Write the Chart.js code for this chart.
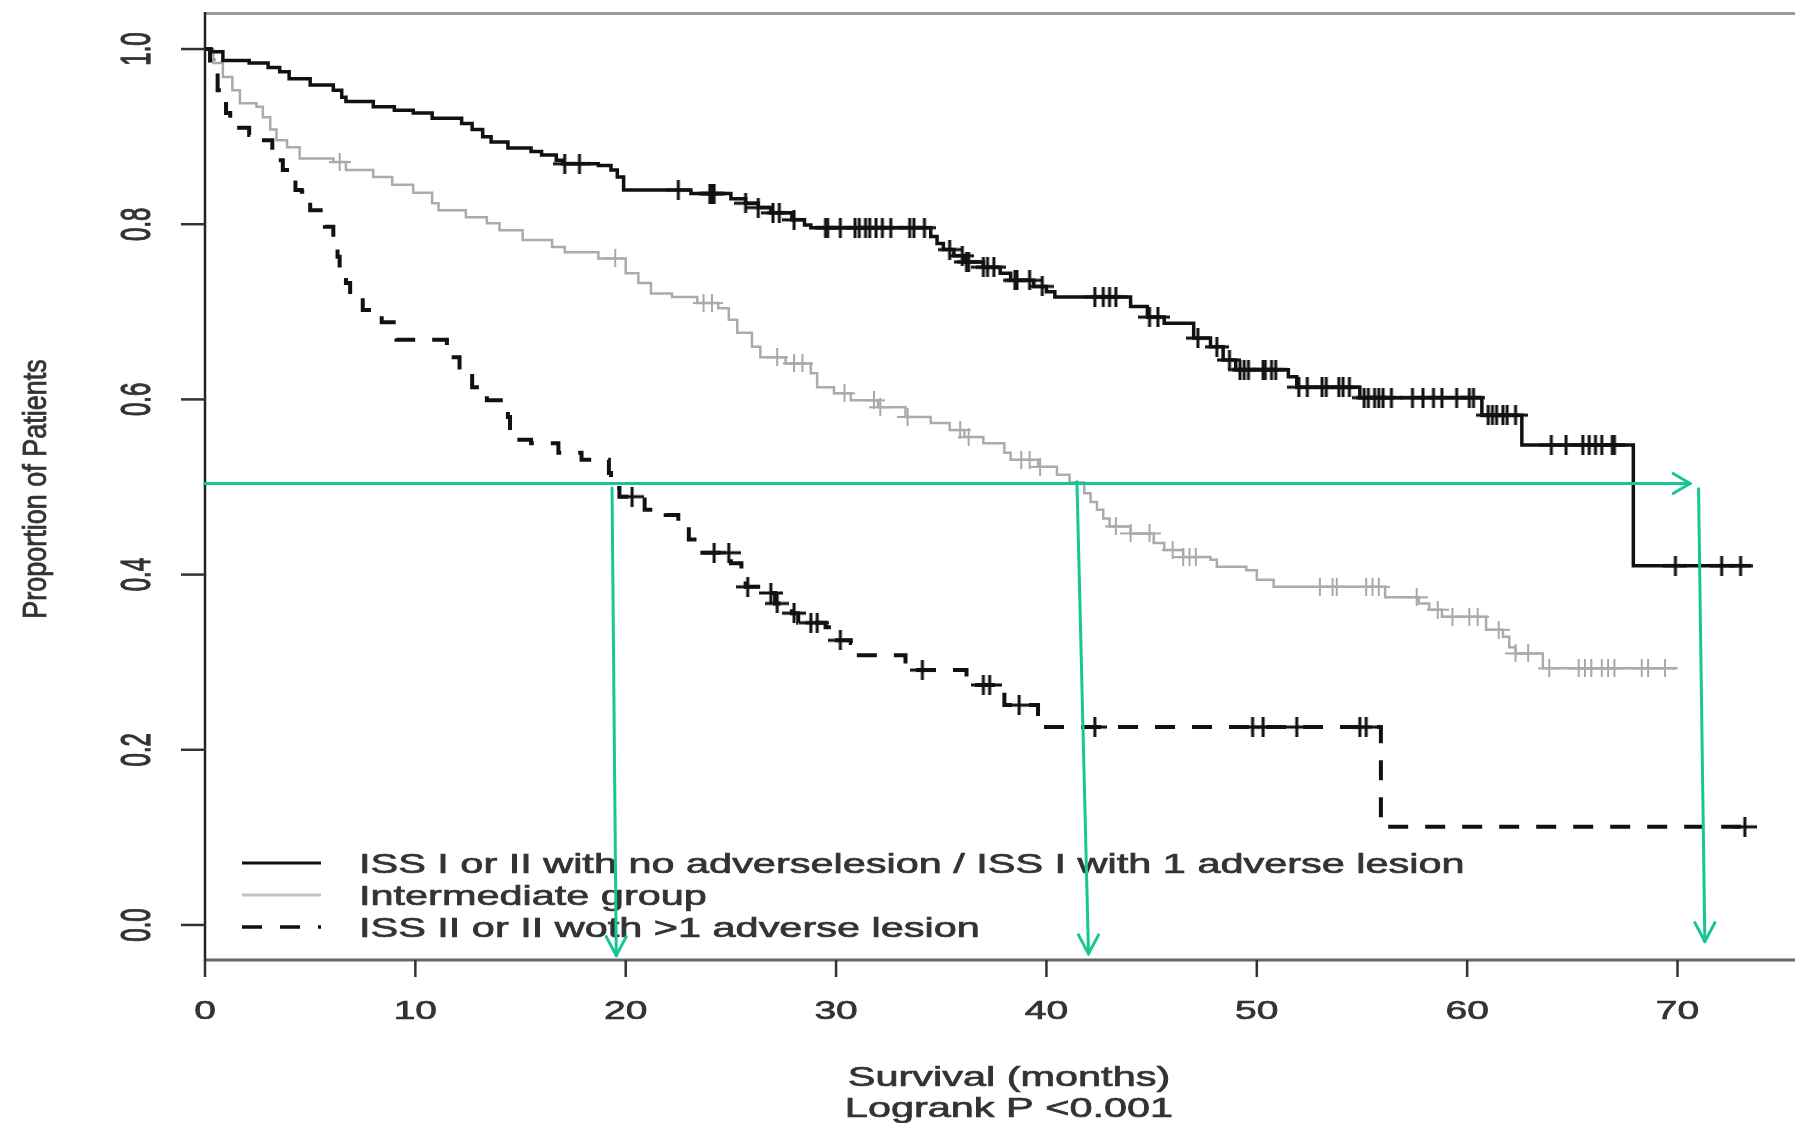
<!DOCTYPE html>
<html>
<head>
<meta charset="utf-8">
<script src="https://cdn.jsdelivr.net/npm/chart.js@4.4.1/dist/chart.umd.min.js"></script>
<style>
  html, body { margin: 0; padding: 0; background: #fff; }
  #wrap { width: 1795px; height: 1123px; }
</style>
</head>
<body>
<div id="wrap"><canvas id="kmChart"></canvas></div>
<script>
// Kaplan-Meier curves: step times (months) and survival after each step
const groupNames = [
  'ISS I or II with no adverselesion / ISS I with 1 adverse lesion',
  'Intermediate group',
  'ISS II or II woth >1 adverse lesion'
];

const lowTime = [0, 0.3, 0.85, 2.1, 3.0, 3.55, 4.0, 5.0, 6.1, 6.5, 6.7, 8.0, 9.0, 9.9, 10.8, 12.2, 12.7, 13.2, 13.6, 14.4, 15.5, 16.0, 16.7, 17.0, 18.7, 19.3, 19.6, 19.9, 23.1, 25.0, 25.7, 26.3, 26.9, 27.9, 28.5, 28.8, 34.5, 34.8, 35.1, 35.6, 36.1, 37.0, 37.8, 38.3, 39.4, 40.0, 40.4, 44.0, 44.8, 45.6, 47.0, 47.8, 48.4, 49.0, 51.5, 51.9, 54.9, 60.7, 62.6, 67.9, 73.5];
const lowSurv = [1.0, 0.997, 0.987, 0.984, 0.979, 0.974, 0.966, 0.959, 0.953, 0.945, 0.940, 0.934, 0.930, 0.927, 0.921, 0.915, 0.908, 0.900, 0.894, 0.887, 0.883, 0.879, 0.873, 0.869, 0.867, 0.862, 0.854, 0.839, 0.835, 0.829, 0.824, 0.819, 0.813, 0.805, 0.799, 0.796, 0.786, 0.778, 0.771, 0.764, 0.757, 0.751, 0.744, 0.736, 0.729, 0.723, 0.717, 0.706, 0.694, 0.687, 0.670, 0.660, 0.645, 0.634, 0.626, 0.614, 0.602, 0.582, 0.548, 0.410, 0.410];
const lowCensor = [17.1, 17.8, 22.5, 24.0, 24.1, 24.2, 25.7, 26.3, 27.0, 27.3, 28.0, 29.5, 29.6, 30.2, 30.9, 31.1, 31.4, 31.6, 31.9, 32.2, 32.6, 33.5, 33.7, 34.2, 35.4, 36.0, 36.2, 36.3, 37.0, 37.2, 37.5, 38.5, 38.6, 39.2, 39.8, 42.3, 42.7, 43.0, 43.3, 44.9, 45.3, 47.2, 48.1, 48.7, 49.2, 49.4, 49.6, 50.3, 50.4, 50.7, 50.9, 52.0, 52.4, 53.1, 53.3, 53.9, 54.1, 54.4, 55.1, 55.3, 55.6, 55.8, 56.0, 56.4, 57.4, 57.9, 58.4, 58.8, 59.5, 60.1, 60.3, 61.0, 61.2, 61.4, 61.7, 61.9, 62.3, 64.0, 64.7, 65.5, 65.8, 66.1, 66.4, 66.9, 67.0, 69.9, 72.1, 73.0];

const midTime = [0, 0.4, 0.85, 1.3, 1.66, 2.45, 2.75, 3.1, 3.4, 3.9, 4.5, 6.1, 6.7, 8.0, 8.9, 9.9, 10.8, 11.1, 12.4, 13.4, 14.0, 15.1, 16.5, 17.1, 18.7, 20.0, 20.6, 21.2, 22.2, 23.4, 24.4, 24.9, 25.3, 26.0, 26.4, 27.6, 28.8, 29.1, 29.9, 30.7, 32.0, 33.3, 34.5, 35.4, 36.1, 37.0, 38.0, 38.3, 39.6, 40.5, 41.1, 41.8, 42.1, 42.4, 42.7, 43.0, 44.0, 45.1, 45.6, 46.5, 47.8, 48.1, 49.5, 50.0, 50.8, 56.1, 57.7, 58.2, 58.8, 60.9, 61.7, 62.0, 62.3, 63.6, 70.0];
const midSurv = [1.0, 0.984, 0.968, 0.953, 0.938, 0.934, 0.922, 0.908, 0.896, 0.888, 0.875, 0.871, 0.862, 0.854, 0.845, 0.836, 0.824, 0.816, 0.808, 0.801, 0.793, 0.782, 0.774, 0.768, 0.761, 0.744, 0.733, 0.721, 0.717, 0.710, 0.704, 0.691, 0.676, 0.660, 0.648, 0.641, 0.630, 0.614, 0.607, 0.599, 0.591, 0.580, 0.573, 0.565, 0.557, 0.550, 0.539, 0.531, 0.523, 0.514, 0.505, 0.493, 0.483, 0.474, 0.464, 0.455, 0.447, 0.436, 0.428, 0.420, 0.417, 0.409, 0.405, 0.394, 0.386, 0.374, 0.367, 0.360, 0.352, 0.337, 0.329, 0.317, 0.310, 0.293, 0.293];
const midCensor = [6.4, 19.5, 23.7, 24.1, 27.2, 28.0, 28.4, 30.4, 31.8, 32.1, 33.4, 35.9, 36.3, 38.8, 39.2, 39.7, 43.3, 44.0, 44.9, 46.0, 46.5, 46.8, 47.1, 53.0, 53.6, 53.8, 55.2, 55.5, 55.8, 57.6, 58.6, 59.3, 60.1, 60.5, 61.5, 62.3, 62.9, 63.9, 65.3, 65.6, 65.9, 66.4, 66.7, 67.0, 68.3, 68.6, 69.4];

const highTime = [0, 0.24, 0.4, 0.6, 1.0, 1.2, 2.1, 2.6, 3.2, 3.3, 3.7, 3.9, 4.3, 4.6, 4.9, 5.0, 5.5, 5.7, 6.1, 6.2, 6.3, 6.4, 6.7, 6.9, 7.5, 8.4, 9.1, 11.5, 12.1, 12.7, 13.4, 14.4, 14.5, 15.5, 16.8, 17.9, 19.2, 19.3, 19.7, 20.9, 21.9, 22.5, 23.0, 23.4, 25.0, 25.5, 25.7, 26.6, 27.1, 27.9, 28.2, 29.5, 29.9, 30.7, 30.9, 33.3, 36.2, 38.0, 39.6, 55.9, 73.3];
const highSurv = [1.0, 0.987, 0.979, 0.953, 0.927, 0.910, 0.902, 0.896, 0.885, 0.873, 0.862, 0.854, 0.839, 0.837, 0.828, 0.816, 0.808, 0.797, 0.785, 0.782, 0.763, 0.744, 0.733, 0.717, 0.702, 0.688, 0.668, 0.648, 0.634, 0.614, 0.599, 0.580, 0.554, 0.550, 0.539, 0.531, 0.516, 0.499, 0.489, 0.474, 0.468, 0.455, 0.440, 0.425, 0.413, 0.397, 0.386, 0.379, 0.367, 0.356, 0.345, 0.340, 0.325, 0.322, 0.308, 0.291, 0.274, 0.251, 0.226, 0.112, 0.112];
const highCensor = [20.3, 24.2, 24.9, 25.8, 26.9, 27.2, 28.0, 28.8, 29.1, 30.2, 34.1, 37.0, 37.3, 38.7, 42.3, 49.8, 50.3, 51.9, 54.9, 55.2, 73.2];

const xTicks = [0, 10, 20, 30, 40, 50, 60, 70];
const yTicks = [0, 0.2, 0.4, 0.6, 0.8, 1.0];
const yTickLabels = ['0.0', '0.2', '0.4', '0.6', '0.8', '1.0'];

// green guide lines drawn on the figure (median read-offs)
const guideLevel = 0.504;
const guideEnd = 70.6;
const medianTop = [19.35, 41.45, 71.0];
const medianTopY = [0.499, 0.506, 0.498];
const medianBottom = [19.55, 42.0, 71.3];
const medianBottomY = [-0.035, -0.033, -0.019];

const FONT = '"Liberation Sans", Arial, sans-serif';
const GREEN = '#16c795';
const INK = '#333';

function toPoints(times, surv) {
  return times.map((t, i) => ({ x: t, y: surv[i] }));
}

function survAt(times, surv, t) {
  let s = surv[0];
  for (let i = 0; i < times.length; i++) {
    if (times[i] <= t) s = surv[i];
  }
  return s;
}

function censorPoints(censor, times, surv) {
  return censor.map(t => ({ x: t, y: survAt(times, surv, t) }));
}

function crossImage(color, w, h, lw) {
  const c = document.createElement('canvas');
  c.width = w;
  c.height = h;
  const g = c.getContext('2d');
  g.strokeStyle = color;
  g.lineWidth = lw;
  g.beginPath();
  g.moveTo(0, h / 2);
  g.lineTo(w, h / 2);
  g.moveTo(w / 2, 0);
  g.lineTo(w / 2, h);
  g.stroke();
  return c;
}

// the source image is stretched sideways, so text is drawn with a horizontal scale
function stretchText(ctx, text, x, y, size, sx, rotated, align) {
  ctx.save();
  ctx.translate(x, y);
  ctx.scale(sx, 1);
  if (rotated) ctx.rotate(-Math.PI / 2);
  ctx.font = size + 'px ' + FONT;
  ctx.textAlign = align || 'center';
  ctx.textBaseline = 'alphabetic';
  ctx.fillStyle = INK;
  ctx.strokeStyle = INK;
  ctx.lineWidth = 0.7;
  ctx.fillText(text, 0, size * 0.716 / 2);
  ctx.strokeText(text, 0, size * 0.716 / 2);
  ctx.restore();
}

function line(ctx, x1, y1, x2, y2) {
  ctx.beginPath();
  ctx.moveTo(x1, y1);
  ctx.lineTo(x2, y2);
  ctx.stroke();
}

const framePlugin = {
  id: 'frame',
  beforeDatasetsDraw(chart) {
    const { ctx, chartArea: a, scales: { x, y } } = chart;
    ctx.save();
    ctx.lineCap = 'butt';

    // box
    ctx.strokeStyle = '#9a9a9a';
    ctx.lineWidth = 3;
    line(ctx, a.left, a.top - 0.5, chart.width, a.top - 0.5);
    ctx.strokeStyle = '#666';
    ctx.lineWidth = 3;
    line(ctx, a.left, a.bottom, chart.width, a.bottom);
    ctx.strokeStyle = '#222';
    ctx.lineWidth = 2.5;
    line(ctx, a.left, a.top - 2, a.left, a.bottom + 1);

    // ticks
    ctx.strokeStyle = '#333';
    ctx.lineWidth = 2.5;
    xTicks.forEach(v => {
      const px = x.getPixelForValue(v);
      line(ctx, px, a.bottom, px, a.bottom + 17);
    });
    yTicks.forEach(v => {
      const py = y.getPixelForValue(v);
      line(ctx, a.left, py, a.left - 24, py);
    });

    // tick labels
    xTicks.forEach(v => {
      stretchText(ctx, String(v), x.getPixelForValue(v), a.bottom + 50, 26, 1.5, false);
    });
    yTicks.forEach((v, i) => {
      stretchText(ctx, yTickLabels[i], 135, y.getPixelForValue(v), 24, 1.8, true);
    });

    // axis titles
    stretchText(ctx, 'Survival (months)', 1009, 1076, 28, 1.48, false);
    stretchText(ctx, 'Logrank P <0.001', 1009, 1107, 28, 1.48, false);
    stretchText(ctx, 'Proportion of Patients', 34, 489, 27, 1.2, true);

    // legend
    const rows = [863, 895, 927];
    ctx.lineWidth = 3;
    ctx.strokeStyle = '#111';
    line(ctx, 242, rows[0], 321, rows[0]);
    ctx.strokeStyle = '#c4c4c4';
    line(ctx, 242, rows[1], 321, rows[1]);
    ctx.strokeStyle = '#111';
    ctx.lineWidth = 3.5;
    ctx.setLineDash([20, 18]);
    line(ctx, 242, rows[2], 321, rows[2]);
    ctx.setLineDash([]);
    groupNames.forEach((name, i) => {
      stretchText(ctx, name, 359, rows[i], 28, 1.48, false, 'left');
    });
    ctx.restore();
  },
  afterDatasetsDraw(chart) {
    const { ctx, scales: { x, y } } = chart;
    ctx.save();
    ctx.strokeStyle = GREEN;
    ctx.lineWidth = 3;
    ctx.lineCap = 'round';
    const gy = y.getPixelForValue(guideLevel);
    const gx0 = x.getPixelForValue(0);
    const gx1 = x.getPixelForValue(guideEnd);
    line(ctx, gx0, gy, gx1, gy);
    line(ctx, gx1 - 17, gy - 10, gx1, gy);
    line(ctx, gx1 - 17, gy + 10, gx1, gy);
    medianTop.forEach((t, i) => {
      const x0 = x.getPixelForValue(t);
      const y0 = y.getPixelForValue(medianTopY[i]);
      const x1 = x.getPixelForValue(medianBottom[i]);
      const y1 = y.getPixelForValue(medianBottomY[i]);
      line(ctx, x0, y0, x1, y1);
      line(ctx, x1 - 10, y1 - 19, x1, y1);
      line(ctx, x1 + 10, y1 - 19, x1, y1);
    });
    ctx.restore();
  }
};

const ctx = document.getElementById('kmChart').getContext('2d');

const kmChart = new Chart(ctx, {
  type: 'scatter',
  data: {
    datasets: [
      {
        label: groupNames[0],
        data: toPoints(lowTime, lowSurv),
        showLine: true,
        stepped: 'before',
        borderColor: '#111',
        borderWidth: 3.5,
        pointRadius: 0
      },
      {
        label: groupNames[1],
        data: toPoints(midTime, midSurv),
        showLine: true,
        stepped: 'before',
        borderColor: '#ababab',
        borderWidth: 2.5,
        pointRadius: 0
      },
      {
        label: groupNames[2],
        data: toPoints(highTime, highSurv),
        showLine: true,
        stepped: 'before',
        borderColor: '#111',
        borderWidth: 4,
        borderDash: [20, 17],
        pointRadius: 0
      },
      {
        label: 'censored 1',
        data: censorPoints(lowCensor, lowTime, lowSurv),
        pointStyle: crossImage('#111', 24, 20, 3),
        pointRadius: 5
      },
      {
        label: 'censored 2',
        data: censorPoints(midCensor, midTime, midSurv),
        pointStyle: crossImage('#a8a8a8', 22, 18, 2),
        pointRadius: 5
      },
      {
        label: 'censored 3',
        data: censorPoints(highCensor, highTime, highSurv),
        pointStyle: crossImage('#111', 24, 20, 3),
        pointRadius: 5
      }
    ]
  },
  options: {
    responsive: true,
    maintainAspectRatio: false,
    animation: false,
    layout: { padding: { left: 205, top: 14, right: 0, bottom: 163 } },
    plugins: {
      legend: { display: false },
      tooltip: { enabled: false }
    },
    scales: {
      x: { type: 'linear', min: 0, max: 75.3, display: false },
      y: { type: 'linear', min: -0.04, max: 1.04, display: false }
    }
  },
  plugins: [framePlugin]
});
</script>
</body>
</html>
